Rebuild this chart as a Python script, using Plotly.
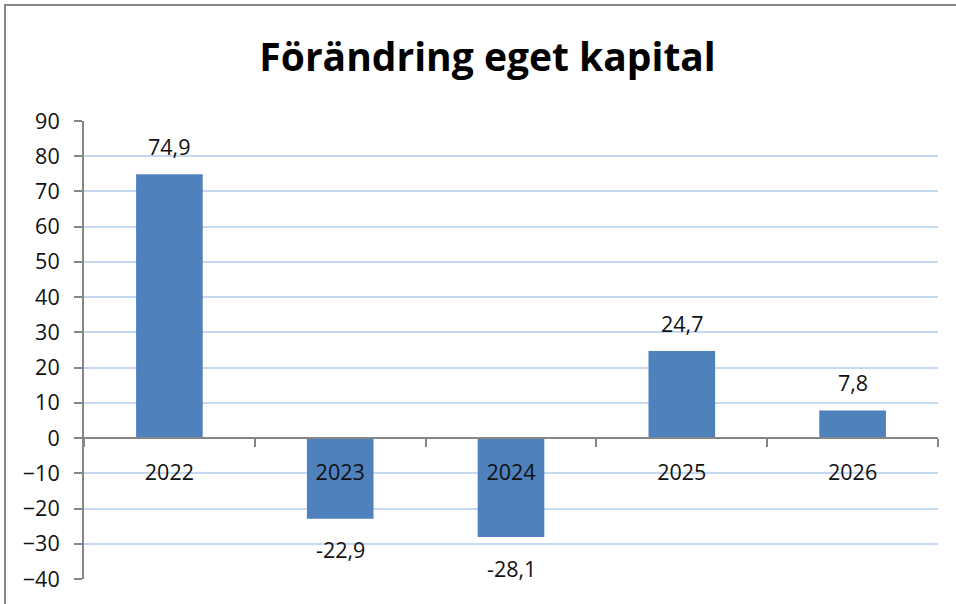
import plotly.graph_objects as go

years = ["2022", "2023", "2024", "2025", "2026"]
values = [74.9, -22.9, -28.1, 24.7, 7.8]
labels = ["74,9", "-22,9", "-28,1", "24,7", "7,8"]
y_ticks = [-40, -30, -20, -10, 0, 10, 20, 30, 40, 50, 60, 70, 80, 90]

FONT = "Open Sans"
GRAY = "#868686"
TXT = "#111111"

fig = go.Figure()
fig.add_trace(go.Bar(
    x=years, y=values,
    marker=dict(color="#4F81BD", line=dict(width=0)),
    hoverinfo="skip",
))

for i, (v, t) in enumerate(zip(values, labels)):
    fig.add_annotation(
        x=i, y=v, text=t, showarrow=False,
        yanchor="middle", yshift=28 if v >= 0 else -31,
        font=dict(family=FONT, size=21.5, color=TXT),
    )

fig.update_layout(
    width=956, height=604,
    margin=dict(l=84, r=18, t=121, b=25),
    paper_bgcolor="white", plot_bgcolor="white",
    showlegend=False,
    bargap=0.61,
    title=dict(
        text="<b>Förändring eget kapital</b>",
        x=0.51, xanchor="center", y=0.905, yanchor="middle",
        font=dict(family=FONT, size=39, color="black"),
    ),
    xaxis=dict(
        type="category", categoryorder="array", categoryarray=years,
        range=[-0.5, len(years) - 0.5],
        anchor="free", position=40 / 130,
        showline=True, linecolor=GRAY, linewidth=2,
        ticks="outside", tickson="boundaries", ticklen=8, tickcolor=GRAY, tickwidth=2,
        showgrid=False, zeroline=False, tickangle=0,
        tickfont=dict(family=FONT, size=21.5, color=TXT),
        ticklabelstandoff=15,
    ),
    yaxis=dict(
        range=[-40, 90], tickvals=y_ticks,
        showline=True, linecolor=GRAY, linewidth=2,
        ticks="outside", ticklen=8, tickcolor=GRAY, tickwidth=2,
        showgrid=True, gridcolor="#C6D9F0", gridwidth=2,
        zeroline=False,
        tickfont=dict(family=FONT, size=21.5, color=TXT),
        ticklabelstandoff=10,
    ),
)

# outer chart frame (left and top edges visible)
fig.add_shape(type="rect", xref="paper", yref="paper",
              x0=(5 - 84) / 854, x1=1.2, y0=-0.2, y1=(579 - 5) / 458,
              line=dict(color=GRAY, width=2), layer="below")

fig.write_html("out.html")
